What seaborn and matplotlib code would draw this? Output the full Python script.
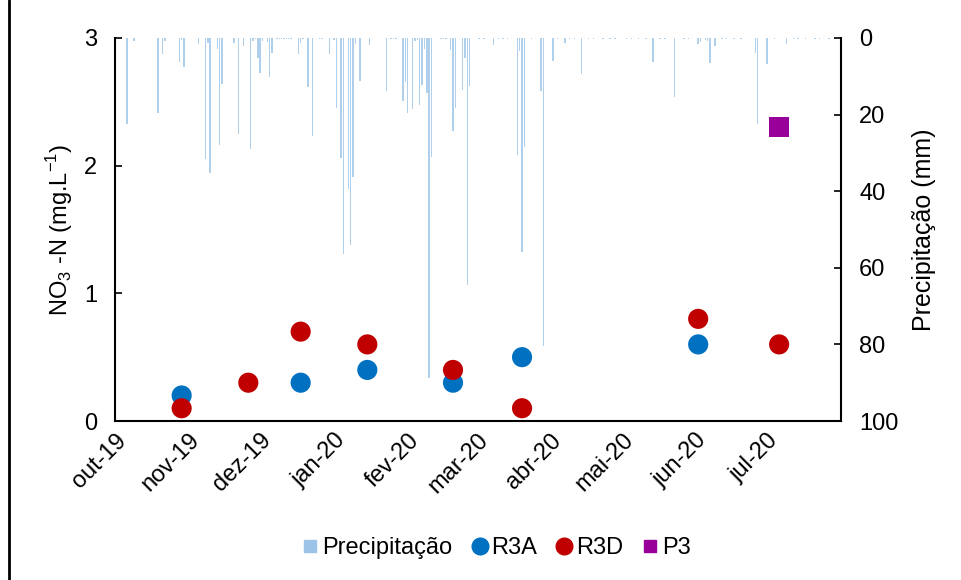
import matplotlib
matplotlib.use("Agg")
import matplotlib.pyplot as plt
from matplotlib.lines import Line2D
import pandas as pd
import seaborn as sns

# precipitação diária (mm), eixo secundário invertido
chuva_datas = ["2019-10-06", "2019-10-09", "2019-10-19", "2019-10-21", "2019-10-22",
               "2019-10-28", "2019-10-29", "2019-10-30", "2019-11-05", "2019-11-08",
               "2019-11-09", "2019-11-10", "2019-11-13", "2019-11-14", "2019-11-15",
               "2019-11-20", "2019-11-22", "2019-11-24", "2019-11-27", "2019-11-28",
               "2019-11-30", "2019-12-01", "2019-12-02", "2019-12-04", "2019-12-05",
               "2019-12-06", "2019-12-17", "2019-12-18", "2019-12-21", "2019-12-23",
               "2019-12-30", "2020-01-01", "2020-01-02", "2020-01-04", "2020-01-05",
               "2020-01-07", "2020-01-08", "2020-01-09", "2020-01-10", "2020-01-12",
               "2020-01-16", "2020-01-23", "2020-01-30", "2020-01-31", "2020-02-01",
               "2020-02-03", "2020-02-04", "2020-02-05", "2020-02-06", "2020-02-07",
               "2020-02-08", "2020-02-09", "2020-02-10", "2020-02-11", "2020-02-19",
               "2020-02-20", "2020-02-21", "2020-02-24", "2020-02-25", "2020-02-26",
               "2020-02-27", "2020-03-08", "2020-03-18", "2020-03-19", "2020-03-20",
               "2020-03-21", "2020-03-28", "2020-03-29", "2020-04-02", "2020-04-07",
               "2020-04-14", "2020-05-14", "2020-05-23", "2020-06-02", "2020-06-03",
               "2020-06-05", "2020-06-06", "2020-06-07", "2020-06-09", "2020-06-26",
               "2020-06-27", "2020-07-01", "2020-07-09"]
chuva_mm = [22.5, 0.8, 19.7, 4.3, 0.7,
            6.3, 0.5, 7.7, 1.6, 31.7,
            1.2, 35.3, 3.0, 28.0, 12.0,
            1.2, 25.0, 2.1, 29.0, 0.8,
            5.1, 9.1, 0.9, 1.0, 10.1,
            3.8, 4.3, 1.3, 12.8, 25.6,
            4.3, 0.5, 18.3, 31.4, 56.3,
            39.3, 54.0, 36.2, 1.5, 11.2,
            1.9, 13.8, 16.4, 11.4, 19.5,
            18.5, 0.8, 0.5, 17.6, 12.4,
            2.8, 14.3, 88.7, 31.2, 3.1,
            24.3, 18.2, 13.6, 5.1, 64.6,
            12.5, 1.9, 30.6, 3.4, 56.0,
            28.4, 13.8, 80.4, 6.0, 1.2,
            9.5, 6.3, 15.4, 1.6, 1.0,
            0.5, 0.7, 6.4, 2.1, 3.8,
            22.4, 6.9, 1.6]

# dias com chuva muito fraca (traços no topo)
garoa_datas = ["2019-11-29", "2019-12-08", "2019-12-09", "2019-12-10", "2019-12-11",
               "2019-12-12", "2019-12-13", "2019-12-14", "2019-12-19", "2019-12-26",
               "2019-12-27", "2020-01-25", "2020-01-26", "2020-01-27", "2020-02-15",
               "2020-02-16", "2020-02-17", "2020-03-02", "2020-03-04", "2020-03-10",
               "2020-03-12", "2020-03-14", "2020-03-24", "2020-04-04", "2020-04-09",
               "2020-04-11", "2020-04-17", "2020-04-19", "2020-04-23", "2020-04-26",
               "2020-04-28", "2020-05-03", "2020-05-05", "2020-05-08", "2020-05-11",
               "2020-05-17", "2020-05-19", "2020-05-27", "2020-05-29", "2020-06-12",
               "2020-06-14", "2020-06-17", "2020-06-20", "2020-07-04", "2020-07-12",
               "2020-07-14", "2020-07-17", "2020-07-21", "2020-07-23", "2020-07-27"]
garoa_mm = [0.3] * len(garoa_datas)

# NO3-N (mg/L)
datas_r3a = ["2019-10-29", "2019-12-18", "2020-01-15", "2020-02-20", "2020-03-20", "2020-06-02"]
no3_r3a = [0.2, 0.3, 0.4, 0.3, 0.5, 0.6]
datas_r3d = ["2019-10-29", "2019-11-26", "2019-12-18", "2020-01-15", "2020-02-20",
             "2020-03-20", "2020-06-02", "2020-07-06"]
no3_r3d = [0.1, 0.3, 0.7, 0.6, 0.4, 0.1, 0.8, 0.6]
datas_p3 = ["2020-07-06"]
no3_p3 = [2.3]

meses = ["out-19", "nov-19", "dez-19", "jan-20", "fev-20", "mar-20",
         "abr-20", "mai-20", "jun-20", "jul-20"]
meses_datas = ["2019-10-01", "2019-11-01", "2019-12-01", "2020-01-01", "2020-02-01",
               "2020-03-01", "2020-04-01", "2020-05-01", "2020-06-01", "2020-07-01"]

CORES = {"R3A": "#0070C0", "R3D": "#C00000", "P3": "#990099"}
MARCAS = {"R3A": "o", "R3D": "o", "P3": "s"}
COR_CHUVA = "#9DC3E6"

sns.set_theme(style="white")
plt.rcParams["font.family"] = ["Liberation Sans", "DejaVu Sans"]
plt.rcParams["mathtext.fontset"] = "custom"
plt.rcParams["mathtext.rm"] = "Liberation Sans"
plt.rcParams["text.color"] = "black"
plt.rcParams["axes.labelcolor"] = "black"
FS = 17

pontos = pd.concat([
    pd.DataFrame({"data": pd.to_datetime(datas_r3a), "no3": no3_r3a, "ponto": "R3A"}),
    pd.DataFrame({"data": pd.to_datetime(datas_r3d), "no3": no3_r3d, "ponto": "R3D"}),
    pd.DataFrame({"data": pd.to_datetime(datas_p3), "no3": no3_p3, "ponto": "P3"}),
], ignore_index=True)

fig = plt.figure(figsize=(9.61, 5.8), dpi=100)
ax = fig.add_axes([115 / 961, 1 - 421 / 580, (841 - 115) / 961, (421 - 38) / 580])
ax2 = ax.twinx()

ax2.bar(pd.to_datetime(chuva_datas + garoa_datas), chuva_mm + garoa_mm,
        width=0.6, color=COR_CHUVA, linewidth=0, alpha=0.8)
ax2.set_ylim(100, 0)
ax2.set_yticks([0, 20, 40, 60, 80, 100])
ax2.set_ylabel("Precipitação (mm)", fontsize=FS + 1, labelpad=10)

sns.scatterplot(data=pontos, x="data", y="no3", hue="ponto", style="ponto",
                palette=CORES, markers=MARCAS, s=210, linewidth=0,
                legend=False, ax=ax, zorder=5)
ax.set_zorder(ax2.get_zorder() + 1)
ax.patch.set_visible(False)

ax.set_ylim(0, 3)
ax.set_yticks([0, 1, 2, 3])
ax.set_xlim(pd.Timestamp("2019-10-01"), pd.Timestamp("2020-08-01"))
ax.set_xticks(pd.to_datetime(meses_datas))
ax.set_xticklabels(meses, rotation=45, ha="right", va="top", rotation_mode="anchor")
ax.set_xlabel("")
ax.set_ylabel(r"NO$_\mathregular{3}$ -N (mg.L$^\mathregular{-1}$)", fontsize=FS, labelpad=6)

for a in (ax, ax2):
    a.spines["top"].set_visible(False)
    for s in ("left", "right", "bottom"):
        a.spines[s].set_color("black")
        a.spines[s].set_linewidth(1.5)
    a.tick_params(direction="in", length=5, width=1.2, colors="black",
                  labelsize=FS, pad=13)
    a.grid(False)
ax.spines["right"].set_visible(False)
ax2.spines["left"].set_visible(False)
ax2.spines["bottom"].set_visible(False)
ax.tick_params(axis="x", pad=6)

handles = [
    Line2D([], [], marker="s", linestyle="", color=COR_CHUVA, markersize=9),
    Line2D([], [], marker="o", linestyle="", color=CORES["R3A"], markersize=12),
    Line2D([], [], marker="o", linestyle="", color=CORES["R3D"], markersize=12),
    Line2D([], [], marker="s", linestyle="", color=CORES["P3"], markersize=9),
]
fig.legend(handles, ["Precipitação", "R3A", "R3D", "P3"], loc="center",
           bbox_to_anchor=(496 / 961, 1 - 548 / 580), ncol=4, frameon=False,
           fontsize=FS, handletextpad=0.1, columnspacing=0.75, handlelength=0.8)

fig.add_artist(Line2D([9 / 961, 9 / 961], [0, 1], color="black", linewidth=2))

fig.savefig("out.png", dpi=100)
